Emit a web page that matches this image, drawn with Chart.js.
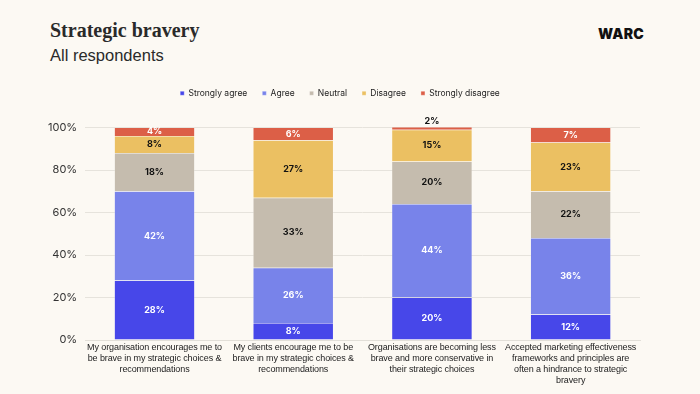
<!DOCTYPE html>
<html>
<head>
<meta charset="utf-8">
<script src="https://cdn.jsdelivr.net/npm/chart.js"></script>
<style>
  html, body { margin: 0; padding: 0; background: #fcf9f3; }
  #wrap { position: relative; width: 700px; height: 394px; overflow: hidden; }
  #title { position: absolute; left: 50px; top: 19px; font-family: "Liberation Serif", serif; font-weight: bold; font-size: 20px; color: #2a2a2a; }
  #sub { position: absolute; left: 50px; top: 46px; font-family: "Liberation Sans", Arial, sans-serif; font-size: 16.5px; color: #2a2a2a; }
  #logo { position: absolute; left: 598px; top: 25px; font-family: Inter, "DejaVu Sans", sans-serif; font-weight: 900; font-size: 14px; color: #111; letter-spacing: 0.3px; }
  canvas { position: absolute; left: 0; top: 0; }
</style>
</head>
<body>
<div id="wrap">
  <div id="title">Strategic bravery</div>
  <div id="sub">All respondents</div>
  <div id="logo">WARC</div>
  <canvas id="graphCanvas" width="700" height="394"></canvas>
</div>
<script>
// statements
var Izjave = [
  ["My organisation encourages me to", "be brave in my strategic choices &", "recommendations"],
  ["My clients encourage me to be", "brave in my strategic choices &", "recommendations"],
  ["Organisations are becoming less", "brave and more conservative in", "their strategic choices"],
  ["Accepted marketing effectiveness", "frameworks and principles are", "often a hindrance to strategic", "bravery"]
];

var Odgovori = ["Strongly agree", "Agree", "Neutral", "Disagree", "Strongly disagree"];

var StronglyAgree    = [28, 8, 20, 12];
var Agree            = [42, 26, 44, 36];
var Neutral          = [18, 33, 20, 22];
var Disagree         = [8, 27, 15, 23];
var StronglyDisagree = [4, 6, 2, 7];

var Boje = ["#4747e9", "#7883ea", "#c5bcae", "#ebc062", "#dc5f47"];
var BojeTeksta = ["#ffffff", "#ffffff", "#111111", "#111111", "#ffffff"];

var yTicks = [0, 20, 40, 60, 80, 100];

var vrednosti = [StronglyAgree, Agree, Neutral, Disagree, StronglyDisagree];
var datasets = [];
for (var i in Odgovori) {
    datasets.push({
        label: Odgovori[i],
        data: vrednosti[i],
        backgroundColor: Boje[i],
        borderColor: 'rgba(255,255,255,0.6)',
        borderWidth: 0.5,
        barPercentage: 0.58,
        categoryPercentage: 1
    });
}

// draws the % labels inside the segments
var etikete = {
    id: 'etikete',
    afterDatasetsDraw: function(chart) {
        var ctx = chart.ctx;
        ctx.save();
        ctx.font = 'bold 9px Inter, "DejaVu Sans", sans-serif';
        ctx.textAlign = 'center';
        ctx.textBaseline = 'middle';
        chart.data.datasets.forEach(function(ds, di) {
            var meta = chart.getDatasetMeta(di);
            meta.data.forEach(function(bar, j) {
                var top = Math.max(bar.y, chart.chartArea.top);
                var h = bar.base - top;
                var txt = ds.data[j] + '%';
                if (h < 6) {
                    ctx.fillStyle = '#111111';
                    ctx.fillText(txt, bar.x, chart.chartArea.top - 6);
                } else {
                    ctx.fillStyle = BojeTeksta[di];
                    ctx.fillText(txt, bar.x, (top + bar.base) / 2);
                }
            });
        });
        ctx.restore();
    }
};

// category labels drawn by hand
var kategorije = {
    id: 'kategorije',
    afterDraw: function(chart) {
        var ctx = chart.ctx;
        var xs = chart.scales.x;
        ctx.save();
        ctx.font = '9px "Liberation Sans", Arial, sans-serif';
        ctx.letterSpacing = '-0.1px';
        ctx.fillStyle = '#222';
        ctx.textAlign = 'center';
        ctx.textBaseline = 'middle';
        Izjave.forEach(function(lines, i) {
            var x = xs.getPixelForTick(i);
            lines.forEach(function(t, k) {
                ctx.fillText(t, x, xs.top + 8 + k * 11);
            });
        });
        ctx.restore();
    }
};

// extra space under the legend
var legendaRazmak = {
    id: 'legendaRazmak',
    beforeInit: function(chart) {
        var fit = chart.legend.fit;
        chart.legend.fit = function() {
            fit.bind(chart.legend)();
            this.height += 20;
        };
    }
};

var ctx = document.getElementById('graphCanvas');
var barGraph = new Chart(ctx, {
    type: 'bar',
    data: { labels: Izjave, datasets: datasets },
    plugins: [etikete, kategorije, legendaRazmak],
    options: {
        responsive: false,
        animation: false,
        layout: { padding: { top: 74, left: 40, right: 60, bottom: 0 } },
        plugins: {
            tooltip: { enabled: false },
            legend: {
                position: 'top',
                labels: {
                    boxWidth: 4, boxHeight: 4, padding: 15,
                    color: '#222',
                    font: { size: 8.5, family: 'Inter, "DejaVu Sans", sans-serif' }
                }
            }
        },
        scales: {
            x: {
                stacked: true,
                grid: { display: false },
                border: { color: '#e2dfd8' },
                afterFit: function(scale) { scale.height = 54; },
                ticks: {
                    color: 'rgba(0,0,0,0)', maxRotation: 0, autoSkip: false,
                    font: { size: 9, family: '"Liberation Sans", sans-serif' }
                }
            },
            y: {
                stacked: true,
                min: 0, max: 100,
                afterBuildTicks: function(axis) { axis.ticks = yTicks.map(function(v) { return { value: v }; }); },
                grid: { color: '#e6e3dc', drawTicks: false },
                border: { display: false },
                ticks: {
                    color: '#333', padding: 8,
                    font: { size: 11, family: 'Inter, "DejaVu Sans", sans-serif' },
                    callback: function(v) { return v + '%'; }
                }
            }
        }
    }
});
</script>
</body>
</html>
